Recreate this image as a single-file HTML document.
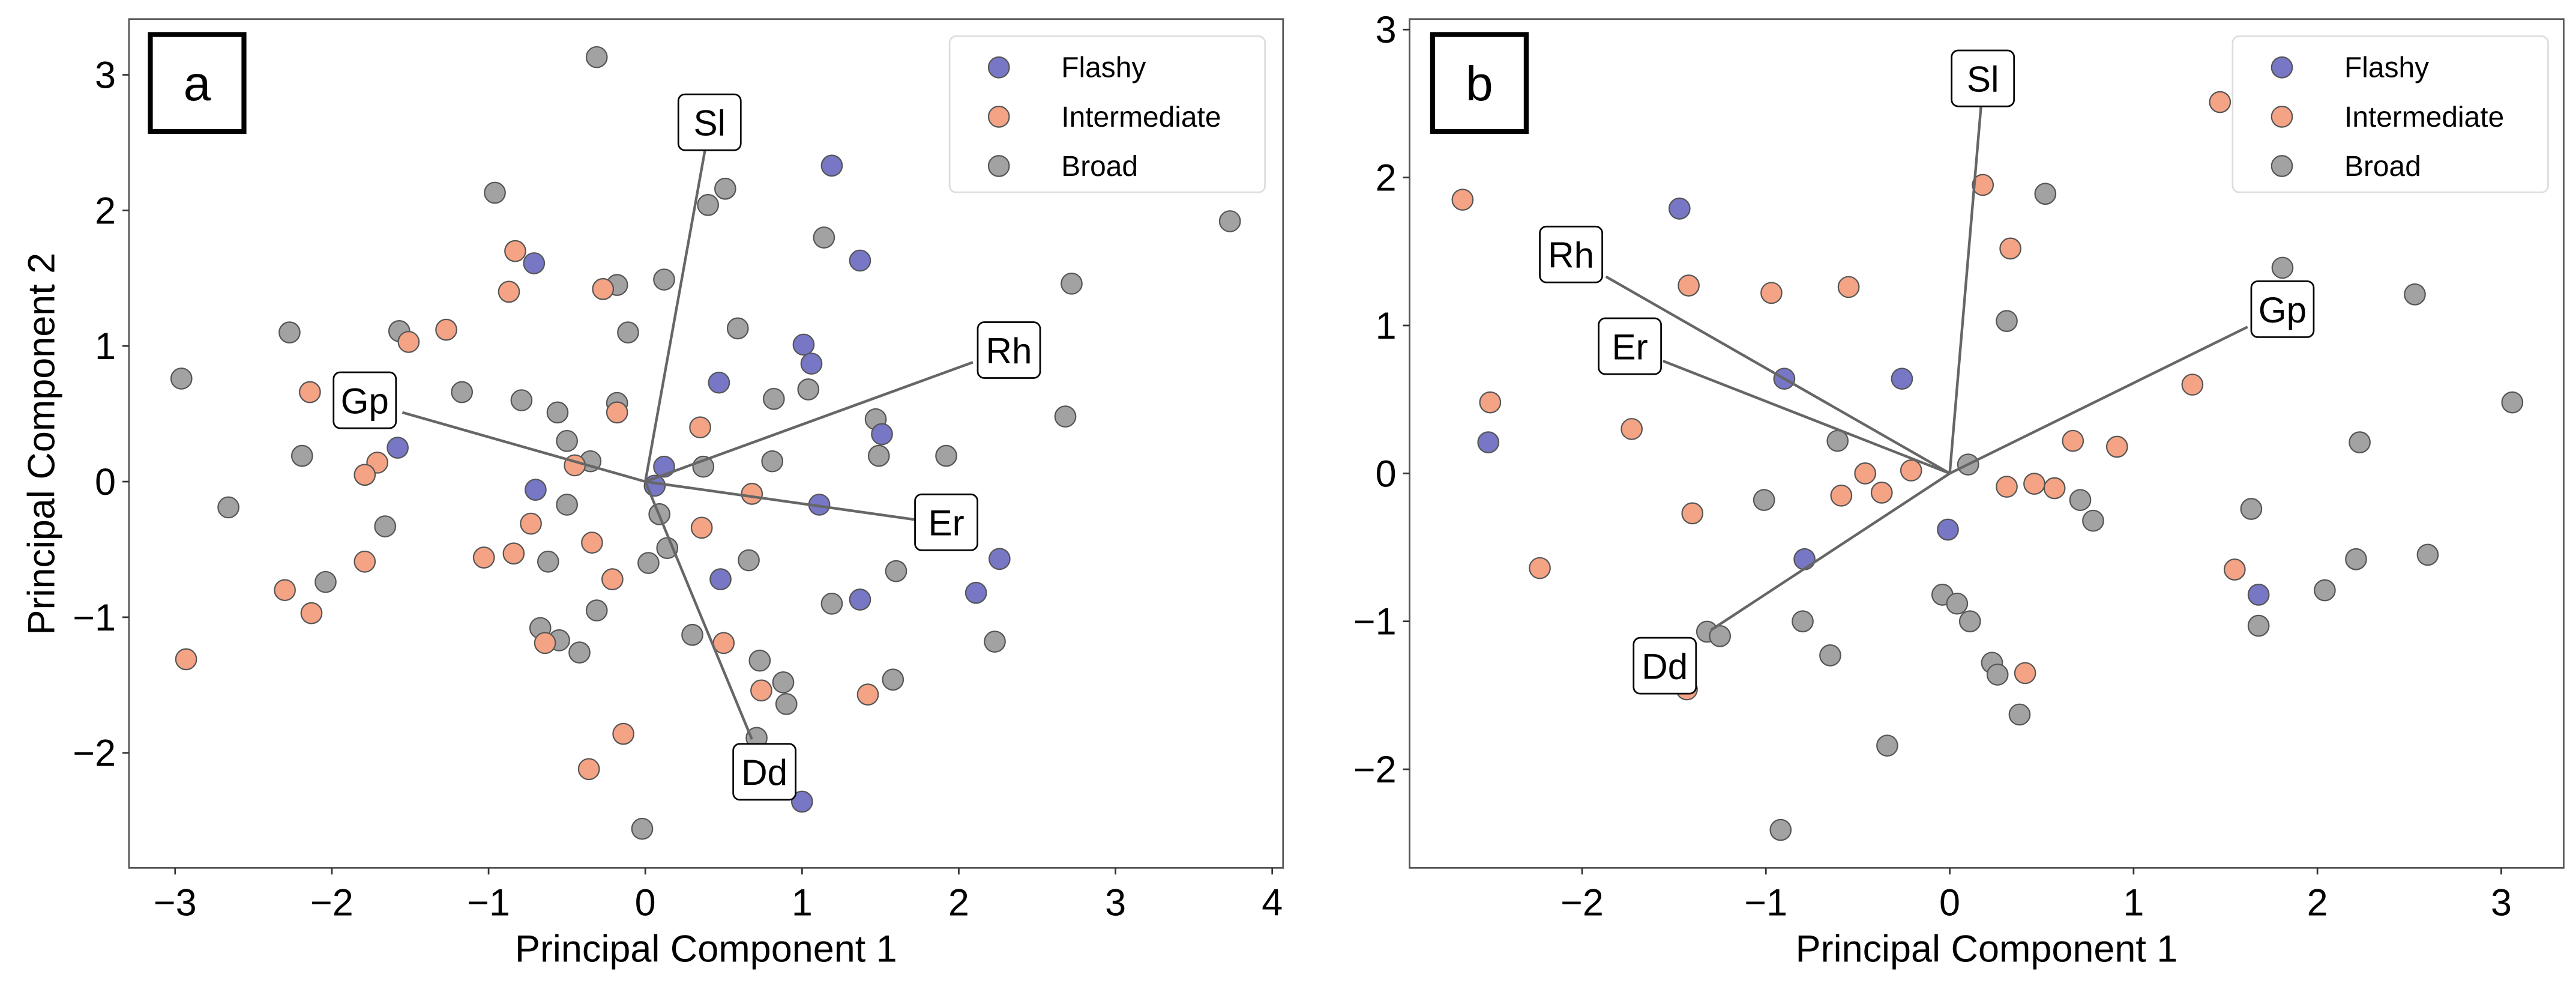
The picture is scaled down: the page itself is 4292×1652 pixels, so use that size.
<!DOCTYPE html>
<html><head><meta charset="utf-8"><style>
html,body{margin:0;padding:0;background:#fff}
svg{display:block}
text{font-family:"Liberation Sans",Arial,sans-serif;fill:#000}
</style></head><body>
<svg id="chart" width="4292" height="1652" viewBox="0 0 1568 603.5" preserveAspectRatio="none" xmlns="http://www.w3.org/2000/svg"></svg>
<script>
// ---- Panel a data ----
const aFlashyX=[1.19,-0.71,1.37,1.01,1.06,0.47,1.51,-1.58,0.12,0.06,-0.70,1.11,2.26,2.11,0.48,1.37,1.00];
const aFlashyY=[2.33,1.61,1.63,1.01,0.87,0.73,0.35,0.25,0.11,-0.03,-0.06,-0.17,-0.57,-0.82,-0.72,-0.87,-2.36];
const aInterX=[-0.83,-0.87,-0.27,-1.27,-1.51,-2.14,-0.18,0.35,-1.71,-1.79,-0.45,0.68,-0.73,0.36,-0.34,-1.03,-0.84,-1.79,-0.21,-2.30,-2.13,-2.93,-0.64,0.50,0.74,1.42,-0.14,-0.36];
const aInterY=[1.70,1.40,1.42,1.12,1.03,0.66,0.51,0.40,0.14,0.05,0.12,-0.09,-0.31,-0.34,-0.45,-0.56,-0.53,-0.59,-0.72,-0.80,-0.97,-1.31,-1.19,-1.19,-1.54,-1.57,-1.86,-2.12];
const aBroadX=[-0.31,-0.96,0.51,0.40,1.14,3.73,-0.18,0.12,2.72,-2.27,-1.57,-0.11,0.59,-1.17,-0.79,-0.18,-0.56,0.82,1.04,1.47,2.68,-0.50,-2.19,-0.35,0.37,0.81,1.49,1.92,-2.96,-2.66,-1.66,-0.50,0.09,0.14,0.02,-0.62,0.66,1.60,-2.04,-0.31,1.19,2.23,-0.67,-0.55,-0.42,0.30,0.73,0.88,0.90,1.58,0.71,-0.02];
const aBroadY=[3.13,2.13,2.16,2.04,1.80,1.92,1.45,1.49,1.46,1.10,1.11,1.10,1.13,0.66,0.60,0.58,0.51,0.61,0.68,0.46,0.48,0.30,0.19,0.15,0.11,0.15,0.19,0.19,0.76,-0.19,-0.33,-0.17,-0.24,-0.49,-0.60,-0.59,-0.58,-0.66,-0.74,-0.95,-0.90,-1.18,-1.08,-1.17,-1.26,-1.13,-1.32,-1.48,-1.64,-1.46,-1.89,-2.56];
const aLoadNames=["Sl","Rh","Gp","Er","Dd"];
const aLoadX=[0.38,2.09,-1.55,1.72,0.68];
const aLoadY=[2.44,0.88,0.51,-0.28,-1.90];
const aLabX=[0.41,2.32,-1.79,1.92,0.76];
const aLabY=[2.65,0.97,0.60,-0.30,-2.14];
const aXTicks=[-3,-2,-1,0,1,2,3,4];
const aYTicks=[-2,-1,0,1,2,3];
// ---- Panel b data ----
const bFlashyX=[-1.47,-0.90,-0.26,-2.51,-0.01,-0.79,1.68];
const bFlashyY=[1.79,0.64,0.64,0.21,-0.38,-0.58,-0.82];
const bInterX=[1.47,-2.65,0.18,0.33,-1.42,-0.97,-0.55,1.32,-2.50,-1.73,0.67,0.91,-0.46,-0.21,-0.59,-0.37,0.31,0.46,0.57,-1.40,-2.23,1.55,0.41,-1.43];
const bInterY=[2.51,1.85,1.95,1.52,1.27,1.22,1.26,0.60,0.48,0.30,0.22,0.18,0.00,0.02,-0.15,-0.13,-0.09,-0.07,-0.10,-0.27,-0.64,-0.65,-1.35,-1.46];
const bBroadX=[0.52,1.81,2.53,0.31,3.06,2.23,-0.61,0.10,-1.01,0.71,0.78,1.64,2.21,2.60,2.04,1.68,-0.04,0.04,0.11,-0.80,-1.32,-1.25,-0.65,0.23,0.26,0.38,-0.34,-0.92];
const bBroadY=[1.89,1.39,1.21,1.03,0.48,0.21,0.22,0.06,-0.18,-0.18,-0.32,-0.24,-0.58,-0.55,-0.79,-1.03,-0.82,-0.88,-1.00,-1.00,-1.07,-1.10,-1.23,-1.28,-1.36,-1.63,-1.84,-2.41];
const bLoadNames=["Sl","Rh","Er","Gp","Dd"];
const bLoadX=[0.17,-1.87,-1.56,1.62,-1.30];
const bLoadY=[2.48,1.33,0.76,0.99,-1.06];
const bLabX=[0.18,-2.06,-1.74,1.81,-1.55];
const bLabY=[2.67,1.48,0.86,1.11,-1.30];
const bXTicks=[-2,-1,0,1,2,3];
const bYTicks=[-2,-1,0,1,2,3];

const NS="http://www.w3.org/2000/svg";
const svg=document.getElementById('chart');
function mk(tag,attrs,parent){const e=document.createElementNS(NS,tag);for(const k in attrs)e.setAttribute(k,attrs[k]);(parent||svg).appendChild(e);return e;}
const COL={flashy:"#7777c6",inter:"#f4a385",broad:"#a2a2a2"};

function panel(p){
  const g=mk('g',{});
  
  
  const sx=v=>p.x0+v*p.ux, sy=v=>p.y0-v*p.uy;
  const frame=mk('rect',{x:p.L,y:p.T,width:p.R-p.L,height:p.B-p.T,fill:'none',stroke:'#555','stroke-width':1},g);
  
  
  p.xt.forEach(v=>{
    mk('line',{x1:sx(v),x2:sx(v),y1:p.B,y2:p.B+4,stroke:'#333','stroke-width':1},g);
    const t=mk('text',{x:sx(v),y:p.B+29,'font-size':23,'text-anchor':'middle'},g);
    t.textContent=(v<0?'\u2212'+(-v):v);
    
    
  });
  p.yt.forEach(v=>{
    mk('line',{x1:p.L-4,x2:p.L,y1:sy(v),y2:sy(v),stroke:'#333','stroke-width':1},g);
    const t=mk('text',{x:p.L-8,y:sy(v)+8,'font-size':23,'text-anchor':'end'},g);
    t.textContent=(v<0?'\u2212'+(-v):v);
    
    
  });
  const xl=mk('text',{x:(p.L+p.R)/2,y:585,'font-size':23,'text-anchor':'middle'},g);
  xl.textContent='Principal Component 1';
  
  
  const sers=[['broad',p.bx,p.by],['inter',p.ix,p.iy],['flashy',p.fx,p.fy]];
  const order=[];
  sers.forEach(s=>s[1].forEach((v,i)=>order.push([s[0],v,s[2][i]])));
  order.forEach(o=>{
    const c=mk('circle',{cx:sx(o[1]),cy:sy(o[2]),r:6.3,fill:COL[o[0]],stroke:'#555','stroke-width':0.8},g);
    
    
  });
  p.ln.forEach((n,i)=>{
    const l=mk('line',{x1:sx(0),y1:sy(0),x2:sx(p.lx[i]),y2:sy(p.ly[i]),stroke:'#666','stroke-width':1.6},g);
    
    
  });
  p.ln.forEach((n,i)=>{
    const cx=sx(p.tx[i]),cy=sy(p.ty[i]);const w=n.length*13+12;
    const r=mk('rect',{x:cx-w/2,y:cy-17,width:w,height:34,rx:4,fill:'#fff',stroke:'#000','stroke-width':1},g);
    
    
    const t=mk('text',{x:cx,y:cy+8,'font-size':22,'text-anchor':'middle'},g);
    t.textContent=n;
    
    
  });
  const pb=mk('rect',{x:p.pl,y:21,width:57,height:59,fill:'#fff',stroke:'#000','stroke-width':3},g);
  
  
  const pt=mk('text',{x:p.pl+28.5,y:61,'font-size':30,'text-anchor':'middle'},g);
  pt.textContent=p.id;
  
  
  const lg=mk('g',{},g);
  
  
  mk('rect',{x:p.lgx,y:22,width:192,height:95,rx:4,fill:'#fff','fill-opacity':0.85,stroke:'#ddd','stroke-width':1},lg);
  [['flashy','Flashy'],['inter','Intermediate'],['broad','Broad']].forEach((e,i)=>{
    const y=41+i*30;
    const c=mk('circle',{cx:p.lgx+30,cy:y,r:6.3,fill:COL[e[0]],stroke:'#555','stroke-width':0.8},lg);
    
    
    const t=mk('text',{x:p.lgx+68,y:y+6,'font-size':17.5},lg);
    t.textContent=e[1];
    
    
  });
}
panel({id:'a',L:78.5,R:781,T:11.6,B:528,x0:392.8,ux:95.4,y0:293,uy:82.5,xt:aXTicks,yt:aYTicks,
  fx:aFlashyX,fy:aFlashyY,ix:aInterX,iy:aInterY,bx:aBroadX,by:aBroadY,ln:aLoadNames,lx:aLoadX,ly:aLoadY,tx:aLabX,ty:aLabY,pl:91.5,lgx:578});
panel({id:'b',L:858,R:1560.5,T:11.6,B:528,x0:1186.8,ux:111.9,y0:288,uy:90,xt:bXTicks,yt:bYTicks,
  fx:bFlashyX,fy:bFlashyY,ix:bInterX,iy:bInterY,bx:bBroadX,by:bBroadY,ln:bLoadNames,lx:bLoadX,ly:bLoadY,tx:bLabX,ty:bLabY,pl:872,lgx:1359});
const yl=mk('text',{x:0,y:0,'font-size':23,'text-anchor':'middle',transform:'translate(33,270) rotate(-90)'});
yl.textContent='Principal Component 2';


</script>
</body></html>
